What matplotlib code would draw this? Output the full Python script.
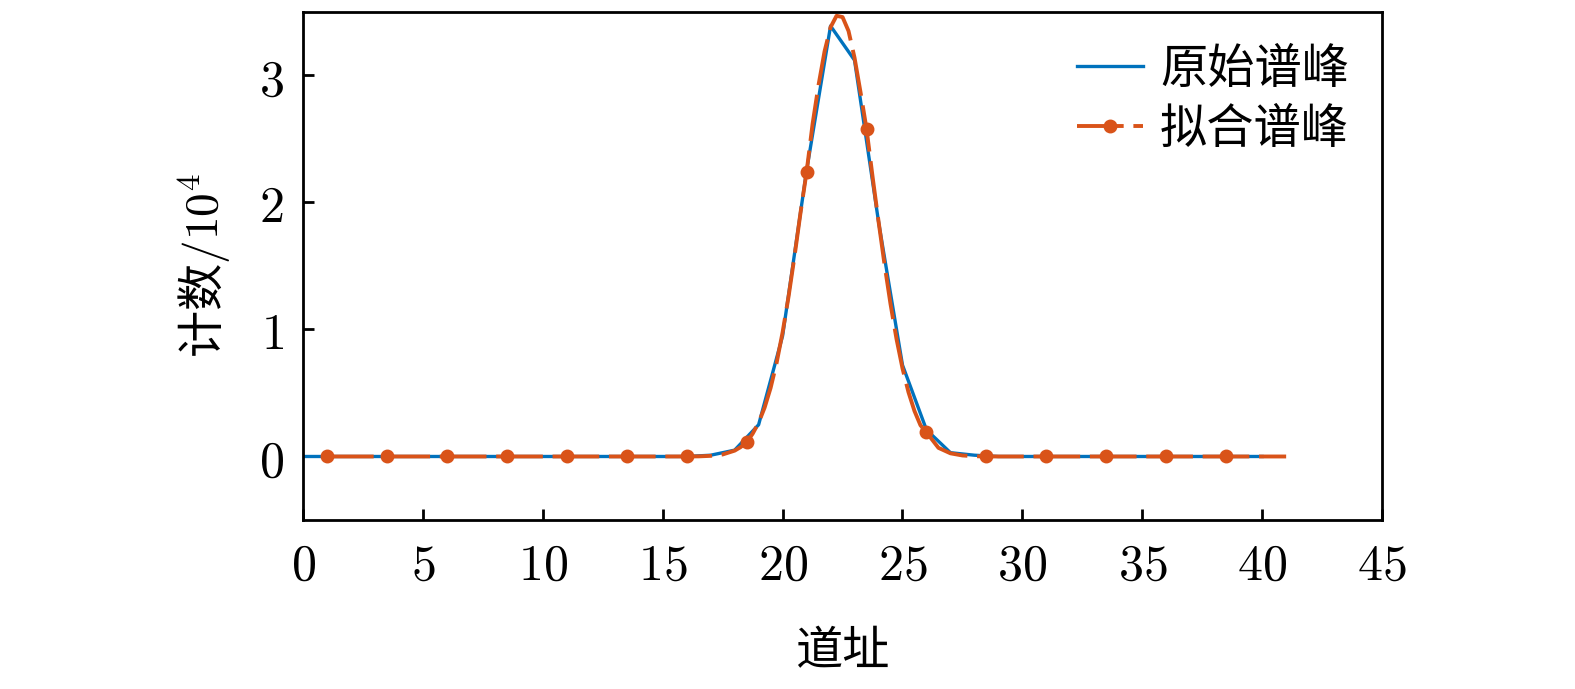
import matplotlib
matplotlib.use('Agg')
import matplotlib.pyplot as plt
import numpy as np
from matplotlib.ticker import FuncFormatter

plt.rcParams['font.family'] = ['Noto Sans CJK SC', 'DejaVu Sans']
plt.rcParams['mathtext.fontset'] = 'cm'

# original spectrum peak (counts / 1e4 per channel)
chan = np.arange(0, 41)
counts = [0, 0, 0, 0, 0, 0, 0, 0, 0, 0,
          0, 0, 0, 0, 0, 0, 0, 0.01, 0.05, 0.25,
          0.95, 2.25, 3.39, 3.12, 1.85, 0.72, 0.21, 0.03, 0.01, 0,
          0, 0, 0, 0, 0, 0, 0, 0, 0, 0, 0]

# fitted peak
fit_x = [1, 2, 3, 3.5, 4, 5, 6, 7, 8, 8.5, 9, 10, 11, 12, 13, 13.5, 14, 15, 16, 16.5,
         17, 17.5, 18, 18.25, 18.5, 18.75, 19, 19.25, 19.5, 19.75,
         20, 20.25, 20.5, 20.75, 21, 21.25, 21.5, 21.75,
         22, 22.25, 22.5, 22.75, 23, 23.25, 23.5, 23.75,
         24, 24.25, 24.5, 24.75, 25, 25.25, 25.5, 25.75,
         26, 26.5, 27, 27.5, 28, 28.5, 29, 30, 31, 32, 33, 33.5, 34, 35, 36,
         37, 38, 38.5, 39, 40, 41]
fit_y = [0, 0, 0, 0, 0, 0, 0, 0, 0, 0, 0, 0, 0, 0, 0, 0, 0, 0, 0.0003, 0.001,
         0.005, 0.016, 0.046, 0.074, 0.112, 0.179, 0.266, 0.385, 0.54, 0.737,
         0.978, 1.261, 1.58, 1.923, 2.24, 2.618, 2.926, 3.19,
         3.38, 3.47, 3.46, 3.35, 3.14, 2.868, 2.58, 2.206,
         1.853, 1.513, 1.201, 0.926, 0.694, 0.506, 0.358, 0.246,
         0.19, 0.068, 0.025, 0.008, 0.002, 0.0005, 0, 0, 0, 0, 0, 0, 0, 0, 0,
         0, 0, 0, 0, 0, 0]
marker_x = [1, 3.5, 6, 8.5, 11, 13.5, 16, 18.5, 21, 23.5, 26, 28.5, 31, 33.5, 36, 38.5]

fig = plt.figure(figsize=(7.875, 3.445), dpi=200)
ax = fig.add_axes([0.1924, 0.2453, 0.6851, 0.7373])

ax.plot(chan, counts, color='#0072BD', lw=1.2, label='原始谱峰')
marks = [i for i, v in enumerate(fit_x) if v in marker_x]
ax.plot(fit_x, fit_y, color='#D95319', lw=1.4, dashes=(12, 2.5),
        marker='o', markevery=marks, markersize=4.2, markerfacecolor='#D95319',
        markeredgewidth=0.8, label='拟合谱峰')

ax.set_xlim(0, 45)
ax.set_ylim(-0.5, 3.5)
ax.set_xticks(np.arange(0, 46, 5))
ax.set_yticks([0, 1, 2, 3])
fmt = FuncFormatter(lambda v, p: '$%g$' % v)
ax.xaxis.set_major_formatter(fmt)
ax.yaxis.set_major_formatter(fmt)
ax.tick_params(direction='in', length=4, width=1.0, labelsize=18, pad=7)
for s in ax.spines.values():
    s.set_linewidth(1.0)

ax.set_xlabel('道址', fontsize=17, labelpad=13)
ax.set_ylabel('计数$/10^4$', fontsize=17, labelpad=9)

leg = ax.legend(loc='upper right', frameon=False, fontsize=17, handlelength=1.4,
                handletextpad=0.35, labelspacing=0.25, borderaxespad=0.3)

fig.savefig('out.png', dpi=200)
